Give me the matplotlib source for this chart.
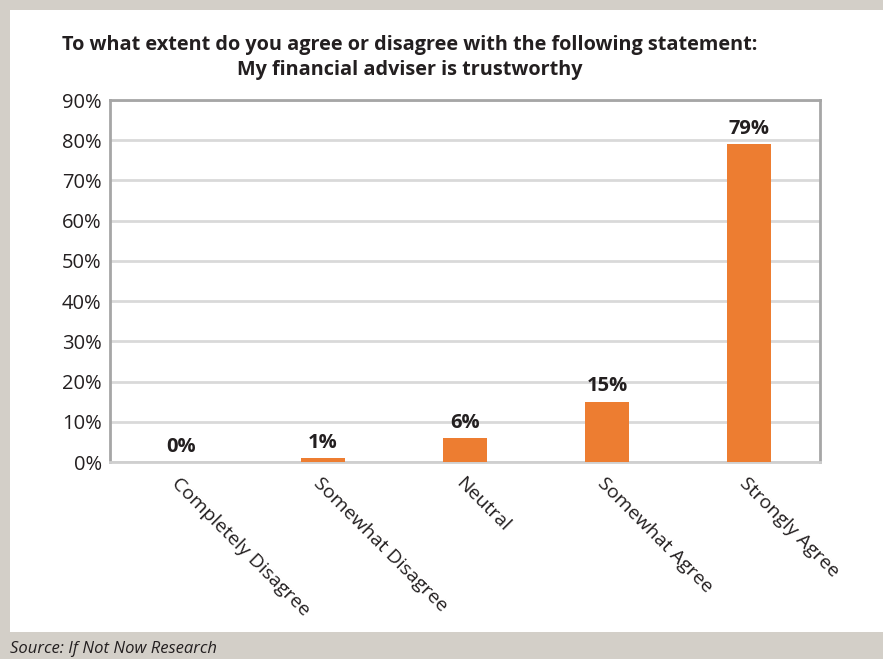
import matplotlib.pyplot as plt
import numpy as np

categories = ['Completely Disagree', 'Somewhat Disagree', 'Neutral', 'Somewhat Agree', 'Strongly Agree']
values = [0, 1, 6, 15, 79]
yticks = [0, 10, 20, 30, 40, 50, 60, 70, 80, 90]

plt.rcParams['font.family'] = ['Open Sans', 'DejaVu Sans']

W, H = 883, 659
fig = plt.figure(figsize=(W / 100, H / 100), dpi=100)
fig.patch.set_facecolor('#d3cfc8')

# white panel behind the chart
bg = fig.add_axes([10 / W, 1 - 632 / H, 1, (632 - 10) / H], zorder=-5)
bg.set_facecolor('white')
bg.set_xticks([])
bg.set_yticks([])
for s in bg.spines.values():
    s.set_visible(False)

ax = fig.add_axes([110 / W, 1 - 462 / H, (820 - 110) / W, (462 - 100) / H])
ax.set_facecolor('white')
x = np.arange(len(categories))
ax.bar(x, values, width=0.31, color='#ed7d31', zorder=3)
for xi, v in zip(x, values):
    ax.text(xi, v + 1.3, f'{v}%', ha='center', va='bottom', fontsize=14.5,
            fontweight='bold', color='#231f20')

ax.set_ylim(0, 90)
ax.set_xlim(-0.5, len(categories) - 0.5)
ax.set_yticks(yticks)
ax.set_yticklabels([f'{t}%' for t in yticks], fontsize=14.5, color='#231f20')
ax.yaxis.grid(True, color='#d9d9d9', linewidth=2, zorder=0)
ax.set_axisbelow(True)
ax.tick_params(axis='y', length=0, pad=6)
ax.tick_params(axis='x', length=0, pad=9)
ax.set_xticks(x)
ax.set_xticklabels(categories, rotation=-45, ha='left', va='top',
                   rotation_mode='anchor', fontsize=14, color='#231f20')
for s in ax.spines.values():
    s.set_color('#a6a6a6')
    s.set_linewidth(2)
ax.spines['bottom'].set_color('#cfcfcf')

fig.text(410 / W, 1 - 45 / H, 'To what extent do you agree or disagree with the following statement:',
         ha='center', va='center', fontsize=14.3, fontweight='bold', color='#231f20')
fig.text(410 / W, 1 - 70 / H, 'My financial adviser is trustworthy',
         ha='center', va='center', fontsize=14.3, fontweight='bold', color='#231f20')
fig.text(10 / W, 1 - 649 / H, 'Source: If Not Now Research', ha='left', va='center',
         fontsize=12, style='italic', color='#231f20')

fig.savefig('out.png', dpi=100, facecolor=fig.get_facecolor())
